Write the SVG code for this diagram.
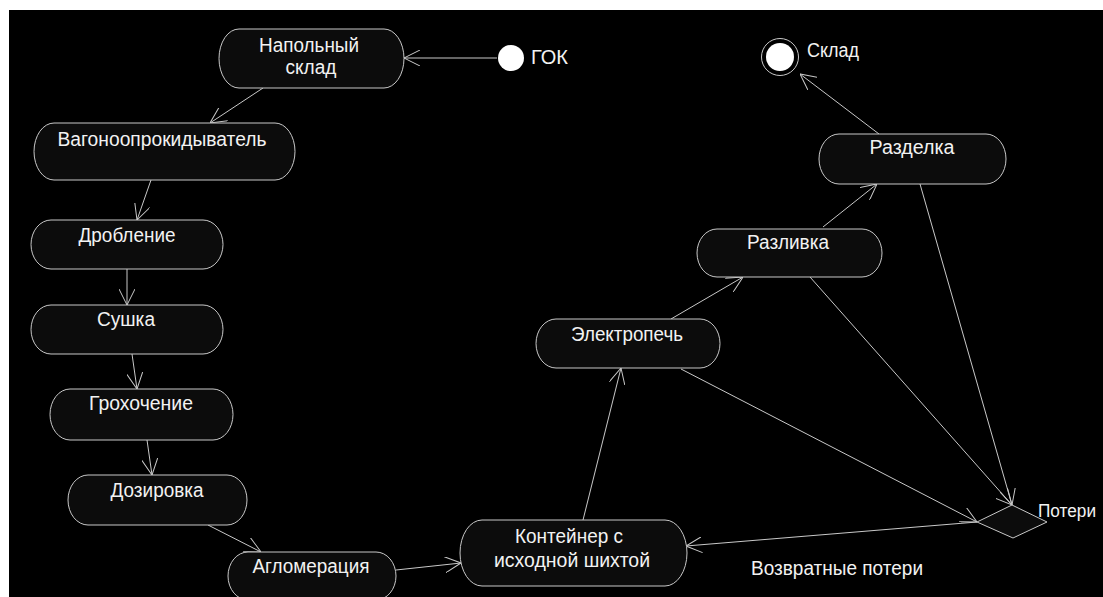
<svg xmlns="http://www.w3.org/2000/svg" width="1103" height="597" viewBox="0 0 1103 597">
  <style>
    .node { fill: #0c0c0c; stroke: #c8c8c8; stroke-width: 1; }
    .lbl { fill: #f2f2f2; font-family: "Liberation Sans", Arial, sans-serif; font-size: 20px; text-anchor: middle; }
    .free { fill: #f2f2f2; font-family: "Liberation Sans", Arial, sans-serif; font-size: 20px; }
    .edge { stroke: #c8c8c8; stroke-width: 1; fill: none; marker-end: url(#arr); }
  </style>
  <defs>
    <marker id="arr" viewBox="0 0 16 16" refX="16" refY="8" markerWidth="16" markerHeight="16" markerUnits="userSpaceOnUse" orient="auto">
      <path d="M0,0 L16,8 L0,16" fill="none" stroke="#c8c8c8" stroke-width="1"/>
    </marker>
  </defs>
  <rect x="0" y="0" width="1103" height="597" fill="#ffffff"/>
  <rect x="9" y="10" width="1094" height="587" fill="#000000"/>

  <g id="connectors">
    <line class="edge" x1="497" y1="58" x2="404" y2="58"/>
    <line class="edge" x1="263" y1="88" x2="210" y2="123"/>
    <line class="edge" x1="151" y1="180" x2="137" y2="220"/>
    <line class="edge" x1="127" y1="269" x2="127" y2="305"/>
    <line class="edge" x1="132" y1="354" x2="137" y2="389"/>
    <line class="edge" x1="147" y1="440" x2="152" y2="475"/>
    <line class="edge" x1="208" y1="525" x2="261" y2="552"/>
    <line class="edge" x1="396" y1="570" x2="461" y2="563"/>
    <line class="edge" x1="583" y1="520" x2="621" y2="368"/>
    <line class="edge" x1="671" y1="319" x2="743" y2="277"/>
    <line class="edge" x1="823" y1="227" x2="877" y2="184"/>
    <line class="edge" x1="879" y1="134" x2="800" y2="74"/>
    <line class="edge" x1="681" y1="369" x2="977" y2="522"/>
    <line class="edge" x1="810" y1="277" x2="1012" y2="505"/>
    <line class="edge" x1="920" y1="184" x2="1012" y2="505"/>
    <line class="edge" x1="977" y1="522" x2="686" y2="546"/>
  </g>

  <g id="start">
    <circle cx="511" cy="58" r="13" fill="#ffffff"/>
    <text class="free" x="531" y="64" textLength="37" lengthAdjust="spacingAndGlyphs">ГОК</text>
  </g>

  <g id="end">
    <circle cx="780" cy="57" r="18.5" fill="none" stroke="#c8c8c8" stroke-width="1"/>
    <circle cx="780" cy="57" r="14" fill="#ffffff"/>
    <text class="free" x="807" y="57" textLength="52" lengthAdjust="spacingAndGlyphs">Склад</text>
  </g>

  <g id="n-napolny">
    <rect class="node" x="219" y="29" width="185" height="59" rx="20" ry="29.5"/>
    <text class="lbl" x="309" y="52" textLength="100" lengthAdjust="spacingAndGlyphs">Напольный</text>
    <text class="lbl" x="311" y="74" textLength="51" lengthAdjust="spacingAndGlyphs">склад</text>
  </g>
  <g id="n-vagon">
    <rect class="node" x="34" y="123" width="261" height="57" rx="20" ry="28.5"/>
    <text class="lbl" x="162" y="146" textLength="209" lengthAdjust="spacingAndGlyphs">Вагоноопрокидыватель</text>
  </g>
  <g id="n-droblenie">
    <rect class="node" x="31" y="220" width="192" height="49" rx="20" ry="24.5"/>
    <text class="lbl" x="127" y="242" textLength="97" lengthAdjust="spacingAndGlyphs">Дробление</text>
  </g>
  <g id="n-sushka">
    <rect class="node" x="31" y="305" width="192" height="49" rx="20" ry="24.5"/>
    <text class="lbl" x="126" y="326" textLength="58" lengthAdjust="spacingAndGlyphs">Сушка</text>
  </g>
  <g id="n-grohochenie">
    <rect class="node" x="50" y="389" width="183" height="51" rx="20" ry="25.5"/>
    <text class="lbl" x="141" y="410" textLength="104" lengthAdjust="spacingAndGlyphs">Грохочение</text>
  </g>
  <g id="n-dozirovka">
    <rect class="node" x="68" y="475" width="179" height="50" rx="20" ry="25"/>
    <text class="lbl" x="157" y="497" textLength="93" lengthAdjust="spacingAndGlyphs">Дозировка</text>
  </g>
  <g id="n-aglomeracia">
    <rect class="node" x="228" y="552" width="168" height="48" rx="20" ry="24"/>
    <text class="lbl" x="311" y="573" textLength="117" lengthAdjust="spacingAndGlyphs">Агломерация</text>
  </g>
  <g id="n-konteiner">
    <rect class="node" x="460" y="520" width="227" height="66" rx="22" ry="33"/>
    <text class="lbl" x="569" y="543" textLength="108" lengthAdjust="spacingAndGlyphs">Контейнер с</text>
    <text class="lbl" x="572" y="567" textLength="156" lengthAdjust="spacingAndGlyphs">исходной шихтой</text>
  </g>
  <g id="n-elektropech">
    <rect class="node" x="536" y="319" width="184" height="49" rx="20" ry="24.5"/>
    <text class="lbl" x="627" y="341" textLength="112" lengthAdjust="spacingAndGlyphs">Электропечь</text>
  </g>
  <g id="n-razlivka">
    <rect class="node" x="697" y="229" width="185" height="48" rx="20" ry="24"/>
    <text class="lbl" x="788" y="249" textLength="82" lengthAdjust="spacingAndGlyphs">Разливка</text>
  </g>
  <g id="n-razdelka">
    <rect class="node" x="819" y="134" width="187" height="50" rx="20" ry="25"/>
    <text class="lbl" x="912" y="154" textLength="85" lengthAdjust="spacingAndGlyphs">Разделка</text>
  </g>
  <g id="n-poteri">
    <polygon class="node" points="977,522 1012,505 1047,522 1013,538"/>
    <text class="free" x="1038" y="517" style="font-size:18px" textLength="58" lengthAdjust="spacingAndGlyphs">Потери</text>
  </g>
  <g id="label-vozvrat">
    <text class="free" x="751" y="575" textLength="172" lengthAdjust="spacingAndGlyphs">Возвратные потери</text>
  </g>
</svg>
